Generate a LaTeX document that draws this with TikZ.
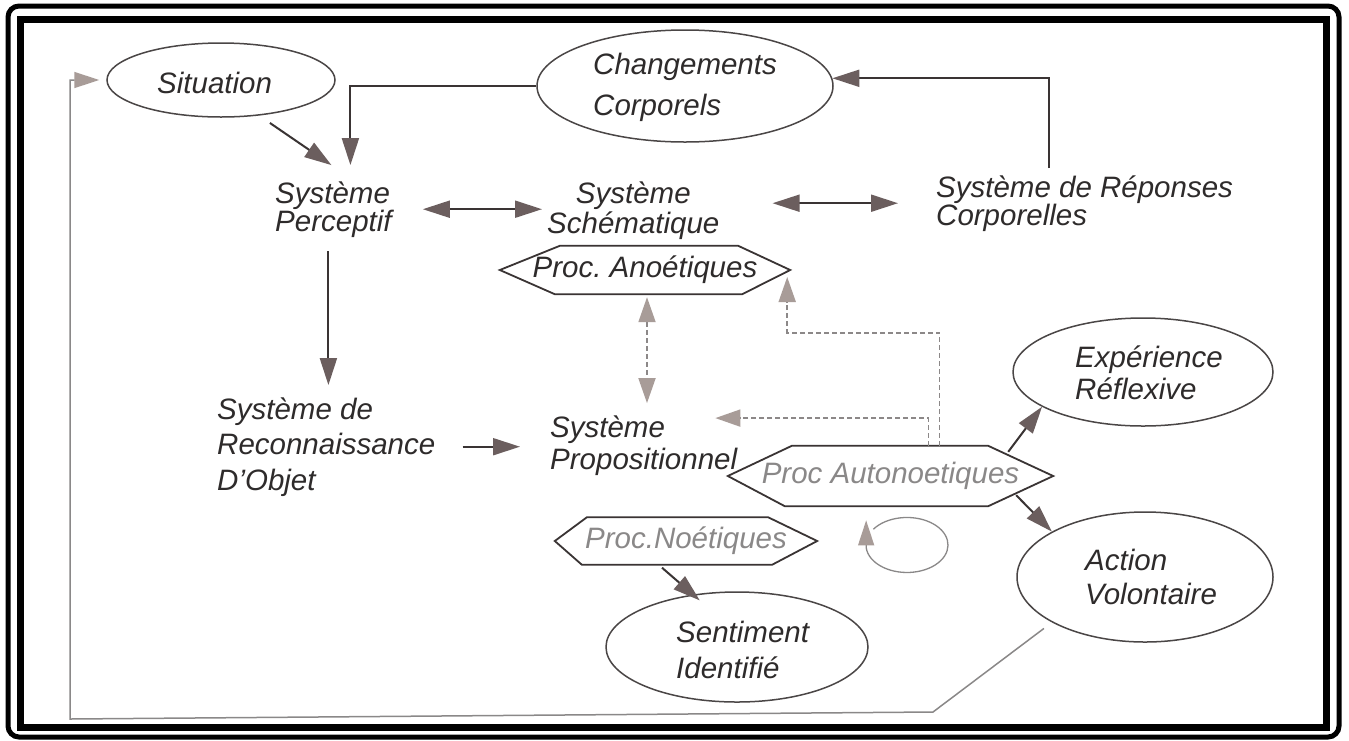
\documentclass[tikz,border=0pt]{standalone}
\usepackage{fontspec}
\setmainfont{Liberation Sans}
\usetikzlibrary{arrows.meta,shapes.geometric,calc}
\frenchspacing

\definecolor{inkT}{HTML}{2E2B2B}
\definecolor{lightT}{HTML}{8A8888}
\definecolor{lineC}{HTML}{3A3434}
\definecolor{arrC}{HTML}{6B5E5E}
\definecolor{ellC}{HTML}{4A4646}
\definecolor{dashC}{HTML}{8C8888}
\definecolor{dashArr}{HTML}{A89C98}
\definecolor{fbC}{HTML}{8A8888}

% multi-line labels whose reference point is the first baseline
\newcommand\stackL[2][30]{\vtop{\baselineskip=#1pt\lineskip=0pt\lineskiplimit=-50pt\halign{##\hfil\cr#2\crcr}}}
\newcommand\stackC[2][30]{\vtop{\baselineskip=#1pt\lineskip=0pt\lineskiplimit=-50pt\halign{\hfil##\hfil\cr#2\crcr}}}

% six-sided process box drawn round a named node
\newcommand\hexbox[5]{\draw[hexline] (#1.west) -- ([xshift=#2pt]#1.north west) -- ([xshift=-#3pt]#1.north east) -- (#1.east) -- ([xshift=-#4pt]#1.south east) -- ([xshift=#5pt]#1.south west) -- cycle;}

\begin{document}
\begin{tikzpicture}[x=1pt,y=-1pt,
  txt/.style={inner sep=0pt, anchor=base west, text=inkT,
    font=\fontsize{29.5}{34}\selectfont\itshape},
  ell/.style={ellipse, draw=ellC, line width=1.5pt, inner sep=0pt},
  hexnode/.style={rectangle, inner sep=0pt, text=inkT,
    font=\fontsize{29.5}{34}\selectfont\itshape},
  hexline/.style={draw=lineC, line width=1.8pt, line join=miter},
  arr/.style={draw=lineC, line width=2pt, -{Triangle[length=27pt,width=17pt,color=arrC]}},
  darr/.style={draw=lineC, line width=2pt,
    {Triangle[length=27pt,width=17pt,color=arrC]}-{Triangle[length=27pt,width=17pt,color=arrC]}},
  dashar/.style={draw=dashC, line width=1.8pt, dash pattern=on 5pt off 3pt,
    -{Triangle[length=25pt,width=17pt,color=dashArr]}},
  ddarr/.style={draw=dashC, line width=1.8pt, dash pattern=on 5pt off 3pt,
    {Triangle[length=25pt,width=17pt,color=dashArr]}-{Triangle[length=25pt,width=17pt,color=dashArr]}},
  fb/.style={draw=fbC, line width=1.5pt, -{Triangle[length=25pt,width=16pt,color=dashArr]}},
]
\useasboundingbox (0,0) rectangle (1349,740);
\fill[white] (0,0) rectangle (1349,740);

% double frame
\draw[line width=5pt, rounded corners=11pt] (8,6) rectangle (1339,737);
\draw[line width=7pt] (20,19) rectangle (1326,727);

% ellipses
\node[ell, minimum width=228pt, minimum height=74pt]  (sit) at (221,80) {};
\node[ell, minimum width=296pt, minimum height=112pt] (chg) at (685,86) {};
\node[ell, minimum width=260pt, minimum height=108pt] (exp) at (1143,372) {};
\node[ell, minimum width=256pt, minimum height=130pt] (act) at (1145,577) {};
\node[ell, minimum width=262pt, minimum height=110pt] (sen) at (737,647) {};

% labels
\node[txt] (sitT)  at (157,93)  {Situation};
\node[txt] (chgT)  at (593,74)  {\stackL[41]{Changements\cr Corporels}};
\node[txt] (percT) at (275,203) {\stackL[28]{Système\cr Perceptif}};
\node[txt] (schT)  at (547,203) {\stackC[30]{Système\cr Schématique}};
\node[txt] (repT)  at (936,197) {\stackL[28]{Système de Réponses\cr Corporelles}};
\node[txt] (recT)  at (217,419) {\stackL[35.5]{Système de\cr Reconnaissance\cr D’Objet}};
\node[txt] (propT) at (550,437) {\stackL[32]{Système\cr Propositionnel}};
\node[txt] (expT)  at (1075,367) {\stackL[32]{Expérience\cr Réflexive}};
\node[txt] (actT)  at (1085,570) {\stackL[34]{Action\cr Volontaire}};
\node[txt] (senT)  at (676,642) {\stackL[36]{Sentiment\cr Identifié}};

% process boxes
\node[hexnode, minimum width=290pt, minimum height=48pt] (ano) at (645,270) {Proc. Anoétiques};
\hexbox{ano}{60}{52}{48}{55}
\node[hexnode, minimum width=325pt, minimum height=60pt, text=lightT] (auto) at (890.5,476) {Proc Autonoetiques};
\hexbox{auto}{64}{65}{65}{57}
\node[hexnode, minimum width=262pt, minimum height=47pt, text=lightT] (noe) at (686,541) {Proc.Noétiques};
\hexbox{noe}{32}{49}{45}{27}

% solid connectors
\draw[arr, shorten <=13pt] (sit.-43) -- ([shift={(-2pt,16pt)}]percT.north);
\draw[arr] (chg.west) -| ([shift={(17pt,16pt)}]percT.north);
\draw[arr] ([shift={(-36pt,7pt)}]repT.north) |- (chg.3);
\draw[darr, shorten <=31pt, shorten >=5pt] (percT.east) -- (percT.east -| schT.west);
\draw[darr, shorten <=53pt, shorten >=38pt] (repT.west -| schT.east) -- (repT.west);
\draw[arr, shorten <=14pt, shorten >=12pt] ([xshift=-5pt]percT.south) -- ([xshift=-5pt]percT.south |- recT.north);
\draw[arr, shorten <=27pt, shorten >=30pt] (recT.east) -- (recT.east -| propT.west);
\draw[arr] ([shift={(-45pt,-6pt)}]auto.north east) -- (exp.199);
\draw[arr] ([shift={(-37pt,11pt)}]auto.south east) -- (act.154);
\draw[arr, shorten >=-9pt] ([shift={(-24pt,-3pt)}]noe.south) -- (sen.130);

% dashed connectors
\draw[ddarr, shorten <=3pt, shorten >=12pt] ([xshift=2pt]ano.south) -- ([xshift=2pt]ano.south |- propT.north);
\draw[dashar] ([xshift=49pt]auto.north) -- ++(0,-113) -| ([shift={(-3pt,-7pt)}]ano.east);
\draw[dashar] ([xshift=38pt]auto.north) |- ([shift={(-22pt,-3pt)}]propT.north east);

% return path from the action back to the situation
\coordinate (fb1) at (933,712);
\coordinate (fb2) at (70,719);
\draw[fb, shorten <=10pt, shorten >=7pt] (act.206) -- (fb1) -- (fb2) |- (sit.west);

% self loop
\coordinate (loopS) at (873.4,529.2);
\draw[fb, line width=1.3pt] (loopS) arc[start angle=215, end angle=535, x radius=41, y radius=27.5] -- ++(0,-27);
\end{tikzpicture}
\end{document}
